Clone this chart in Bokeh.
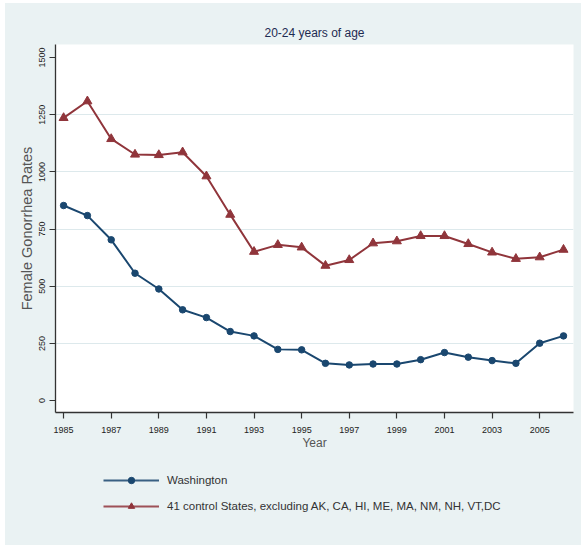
from bokeh.plotting import figure
from bokeh.layouts import column
from bokeh.models import FixedTicker, Legend, LegendItem, Range1d
from bokeh.embed import file_html
from bokeh.resources import INLINE

# Female gonorrhea rates, 20-24 years of age
years = list(range(1985, 2007))
washington = [853, 809, 703, 557, 488, 397, 363, 302, 283, 224, 222,
              163, 156, 160, 160, 179, 210, 190, 175, 163, 251, 283]
controls = [1236, 1309, 1144, 1076, 1074, 1086, 981, 813, 651, 681, 670,
            590, 615, 688, 697, 720, 720, 685, 648, 620, 627, 660]
series_names = ["Washington",
                "41 control States, excluding AK, CA, HI, ME, MA, NM, NH, VT,DC"]

x_ticks = list(range(1985, 2006, 2))
y_ticks = [0, 250, 500, 750, 1000, 1250, 1500]
grid_ticks = [250, 500, 750, 1000, 1250]

FONT = "Liberation Sans"
BG = "#EAF2F3"
BLUE = "#1A476F"
RED = "#90353B"

p = figure(frame_width=518, frame_height=368, output_backend="svg",
           toolbar_location=None,
           x_range=Range1d(1984.66, 2006.42), y_range=Range1d(-52, 1557),
           min_border_left=50, min_border_right=8, min_border_top=41,
           min_border_bottom=50, title="20-24 years of age")

p.background_fill_color = "white"
p.border_fill_color = BG
p.outline_line_color = None

p.title.align = "center"
p.title.text_font = FONT
p.title.text_font_size = "12px"
p.title.text_font_style = "normal"
p.title.text_color = "#1E2B52"

# axes
for ax in (p.xaxis[0], p.yaxis[0]):
    ax.axis_line_color = "#333333"
    ax.axis_line_width = 1.3
    ax.major_tick_line_color = "#333333"
    ax.major_tick_line_width = 1.2
    ax.major_tick_out = 6
    ax.major_tick_in = 0
    ax.minor_tick_line_color = None
    ax.major_label_text_font = FONT
    ax.major_label_text_font_size = "9px"
    ax.major_label_text_color = "#222222"
    ax.axis_label_text_font = FONT
    ax.axis_label_text_font_style = "normal"
    ax.axis_label_text_color = "#555555"

p.xaxis.ticker = FixedTicker(ticks=x_ticks)
p.xaxis.axis_label = "Year"
p.xaxis.axis_label_text_font_size = "12px"
p.xaxis.major_label_standoff = 8
p.xaxis.axis_label_standoff = 0

p.yaxis.ticker = FixedTicker(ticks=y_ticks)
p.yaxis.major_label_orientation = "vertical"
p.yaxis.axis_label = "Female Gonorrhea Rates"
p.yaxis.axis_label_text_font_size = "14.5px"
p.yaxis.major_label_standoff = 4
p.yaxis.axis_label_standoff = 2

p.xgrid.grid_line_color = None
p.ygrid.ticker = FixedTicker(ticks=grid_ticks)
p.ygrid.grid_line_color = "#DDE9EC"
p.ygrid.grid_line_width = 1.2

# series
p.line(years, washington, line_color=BLUE, line_width=2)
p.scatter(years, washington, marker="circle", size=6.5,
          fill_color=BLUE, line_color=BLUE)
p.line(years, controls, line_color=RED, line_width=2)
p.scatter(years, controls, marker="triangle", size=9,
          fill_color=RED, line_color=RED)

# key panel underneath the chart; its renderers lie outside its 0..1 ranges,
# so only the legend swatches show
key = figure(width=576, height=83, output_backend="svg", toolbar_location=None,
             x_range=Range1d(0, 1), y_range=Range1d(0, 1),
             x_axis_type=None, y_axis_type=None, min_border=0)
key.background_fill_alpha = 0
key.border_fill_alpha = 0
key.outline_line_color = None
key.grid.visible = False

kwl = key.line(years, washington, line_color=BLUE, line_width=1.8, line_alpha=0.85)
kwm = key.scatter(years, washington, marker="circle", size=5.5,
                  fill_color=BLUE, line_color=BLUE)
kcl = key.line(years, controls, line_color=RED, line_width=1.8, line_alpha=0.85)
kcm = key.scatter(years, controls, marker="triangle", size=8,
                  fill_color=RED, line_color=RED)

legend = Legend(items=[
    LegendItem(label=series_names[0], renderers=[kwl, kwm]),
    LegendItem(label=series_names[1], renderers=[kcl, kcm]),
], location=(48, 31))
legend.glyph_width = 56
legend.glyph_height = 16
legend.spacing = 10
legend.padding = 0
legend.margin = 0
legend.label_standoff = 8
legend.label_text_font = FONT
legend.label_text_font_size = "11.5px"
legend.label_text_color = "#333333"
legend.border_line_color = None
legend.background_fill_alpha = 0
key.add_layout(legend)

layout = column(p, key, spacing=0, margin=(3, 0, 0, 5),
                styles={"background-color": BG})

open("out.html", "w").write(file_html(layout, INLINE))
